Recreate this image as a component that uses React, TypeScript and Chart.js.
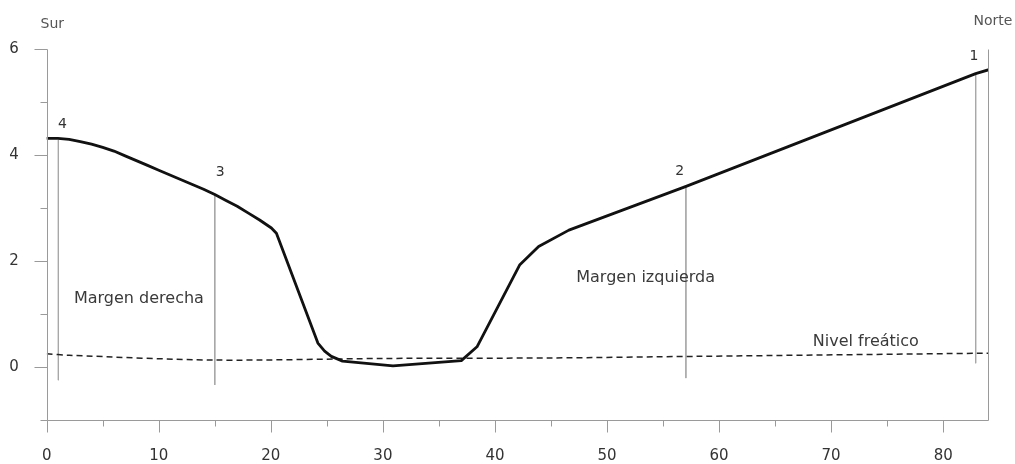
import React, { useEffect, useRef } from 'react';
import { Chart, registerables } from 'chart.js';

Chart.register(...registerables);

// Terrain profile (distance in m, height in m)
const profileX = [0, 1, 2, 3, 4, 5, 6, 7, 8, 9, 10, 11, 12, 13, 14, 15, 16, 17, 18, 19, 20.05, 20.5, 24.2, 24.8, 25.4, 26.4, 30.9, 37.0, 38.4, 42.2, 43.9, 46.6, 57.0, 82.9, 84];
const profileY = [4.31, 4.31, 4.29, 4.25, 4.2, 4.14, 4.07, 3.98, 3.89, 3.8, 3.71, 3.62, 3.53, 3.44, 3.35, 3.25, 3.14, 3.03, 2.9, 2.77, 2.62, 2.52, 0.45, 0.3, 0.2, 0.11, 0.02, 0.12, 0.38, 1.92, 2.27, 2.58, 3.4, 5.53, 5.6];

// Water table (Nivel freático)
const waterX = [0, 2, 15, 30, 45, 58, 84];
const waterY = [0.25, 0.22, 0.13, 0.16, 0.17, 0.2, 0.26];

// Profile stations
const markerNames = ['4', '3', '2', '1'];
const markerX = [1.04, 15, 57.04, 82.9];
const markerTop = [4.28, 3.25, 3.4, 5.53];
const markerBottom = [-0.25, -0.34, -0.21, 0.07];
const markerLabelX = [1.41, 15.49, 56.49, 82.74];
const markerLabelY = [4.57, 3.66, 3.69, 5.85];

// Axis ticks
const xMajorTicks = [0, 10, 20, 30, 40, 50, 60, 70, 80];
const xMinorTicks = [5, 15, 25, 35, 45, 55, 65, 75];
const yMajorTicks = [0, 2, 4, 6];
const yMinorTicks = [-1, 1, 3, 5];

// Text notes (in data coordinates)
const noteTexts = ['Margen derecha', 'Margen izquierda', 'Nivel freático'];
const noteX = [8.23, 53.45, 73.1];
const noteY = [1.2, 1.6, 0.39];

const cornerTexts = ['Sur', 'Norte'];
const cornerX = [0.5, 82.7];
const cornerY = [6.45, 6.52];

const FONT = "'DejaVu Sans', sans-serif";
const AXIS_COLOR = '#9a9a9a';

const decorPlugin = {
  id: 'decor',
  afterDraw(chart: any) {
    const { ctx, chartArea, scales } = chart;
    const xs = scales.x;
    const ys = scales.y;
    ctx.save();
    ctx.strokeStyle = AXIS_COLOR;
    ctx.lineWidth = 1;
    const L = Math.round(chartArea.left) + 0.5;
    const R = Math.round(chartArea.right) + 0.5;
    const T = Math.round(chartArea.top) + 0.5;
    const B = Math.round(chartArea.bottom) + 0.5;
    ctx.beginPath();
    ctx.moveTo(L, T);
    ctx.lineTo(L, B);
    ctx.moveTo(L, B);
    ctx.lineTo(R, B);
    ctx.moveTo(R, T);
    ctx.lineTo(R, B);
    xMajorTicks.forEach((v) => {
      const px = Math.round(xs.getPixelForValue(v)) + 0.5;
      ctx.moveTo(px, B);
      ctx.lineTo(px, B + 12);
    });
    xMinorTicks.forEach((v) => {
      const px = Math.round(xs.getPixelForValue(v)) + 0.5;
      ctx.moveTo(px, B);
      ctx.lineTo(px, B + 6);
    });
    yMajorTicks.forEach((v) => {
      const py = Math.round(ys.getPixelForValue(v)) + 0.5;
      ctx.moveTo(L, py);
      ctx.lineTo(L - 13, py);
    });
    yMinorTicks.forEach((v) => {
      const py = Math.round(ys.getPixelForValue(v)) + 0.5;
      ctx.moveTo(L, py);
      ctx.lineTo(L - 7, py);
    });
    ctx.stroke();

    ctx.fillStyle = '#333';
    ctx.font = `14px ${FONT}`;
    ctx.textAlign = 'center';
    ctx.textBaseline = 'middle';
    markerNames.forEach((n, i) => {
      ctx.fillText(n, xs.getPixelForValue(markerLabelX[i]), ys.getPixelForValue(markerLabelY[i]));
    });

    ctx.fillStyle = '#3a3a3a';
    ctx.font = `16px ${FONT}`;
    ctx.textAlign = 'center';
    ctx.textBaseline = 'alphabetic';
    noteTexts.forEach((t, i) => {
      ctx.fillText(t, xs.getPixelForValue(noteX[i]), ys.getPixelForValue(noteY[i]));
    });

    ctx.fillStyle = '#555';
    ctx.font = `14px ${FONT}`;
    ctx.textBaseline = 'middle';
    ctx.textAlign = 'center';
    ctx.fillText(cornerTexts[0], xs.getPixelForValue(cornerX[0]), ys.getPixelForValue(cornerY[0]));
    ctx.textAlign = 'left';
    ctx.fillText(cornerTexts[1], xs.getPixelForValue(cornerX[1]), ys.getPixelForValue(cornerY[1]));
    ctx.restore();
  },
};

export default function App() {
  const canvasRef = useRef<HTMLCanvasElement | null>(null);

  useEffect(() => {
    const canvas = canvasRef.current;
    if (!canvas) return;

    const markerSets = markerX.map((mx, i) => ({
      label: 'station ' + markerNames[i],
      data: [
        { x: mx, y: markerTop[i] },
        { x: mx, y: markerBottom[i] },
      ],
      borderColor: '#a8a8a8',
      borderWidth: 1,
      pointRadius: 0,
      tension: 0,
    }));

    const chart = new Chart(canvas, {
      type: 'line',
      data: {
        datasets: [
          {
            label: 'Perfil',
            data: profileX.map((x, i) => ({ x, y: profileY[i] })),
            borderColor: '#111',
            borderWidth: 2.8,
            pointRadius: 0,
            tension: 0,
            borderJoinStyle: 'round',
            borderCapStyle: 'round',
          },
          {
            label: 'Nivel freático',
            data: waterX.map((x, i) => ({ x, y: waterY[i] })),
            borderColor: '#222',
            borderWidth: 1.5,
            borderDash: [6, 4],
            pointRadius: 0,
            tension: 0.3,
          },
          ...markerSets,
        ],
      },
      options: {
        animation: false,
        responsive: false,
        events: [],
        layout: { padding: { left: 0, right: 25, top: 48.7, bottom: 0 } },
        plugins: {
          legend: { display: false },
          tooltip: { enabled: false },
        },
        scales: {
          x: {
            type: 'linear',
            min: 0,
            max: 84,
            grid: { display: false, drawTicks: false },
            border: { display: false },
            ticks: {
              stepSize: 5,
              autoSkip: false,
              maxRotation: 0,
              padding: 27,
              color: '#333',
              font: { family: FONT, size: 15 },
              callback: (v: any) => (Number(v) % 10 === 0 ? String(v) : ''),
            },
            afterFit: (s: any) => {
              s.height = 44;
            },
          },
          y: {
            type: 'linear',
            min: -1,
            max: 6,
            grid: { display: false, drawTicks: false },
            border: { display: false },
            ticks: {
              stepSize: 1,
              autoSkip: false,
              padding: 28,
              color: '#333',
              font: { family: FONT, size: 15 },
              callback: (v: any) => (Number(v) >= 0 && Number(v) % 2 === 0 ? String(v) : ''),
            },
            afterFit: (s: any) => {
              s.width = 46.7;
            },
          },
        },
      },
      plugins: [decorPlugin],
    } as any);

    return () => chart.destroy();
  }, []);

  return (
    <div style={{ position: 'absolute', left: 0, top: 0, width: 1015, height: 464, background: '#fff' }}>
      <canvas ref={canvasRef} width={1015} height={464} style={{ display: 'block' }} />
    </div>
  );
}
